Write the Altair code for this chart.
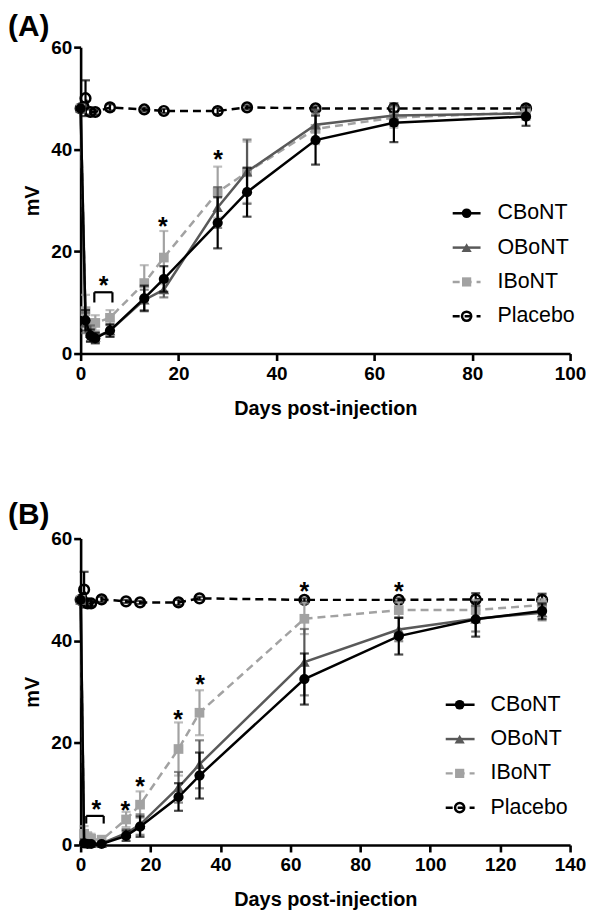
import altair as alt
import pandas as pd

FONT = "Liberation Sans"

SERIES_ORDER = ["Placebo", "IBoNT", "OBoNT", "CBoNT"]   # drawing order (last on top)
LEGEND_ORDER = ["CBoNT", "OBoNT", "IBoNT", "Placebo"]
COLORS = {"CBoNT": "#000000", "OBoNT": "#595959", "IBoNT": "#a2a2a2", "Placebo": "#000000"}
SHAPES = {"CBoNT": "circle", "OBoNT": "triangle-up", "IBoNT": "square", "Placebo": "circle"}
FILLED = {"CBoNT": True, "OBoNT": True, "IBoNT": True, "Placebo": False}
SIZES = {"CBoNT": 105, "OBoNT": 115, "IBoNT": 95, "Placebo": 95}
DASH = {"CBoNT": None, "OBoNT": None, "IBoNT": [8, 5], "Placebo": [8, 5]}

# ---------------- Panel A ----------------
days_a = [0, 1, 2, 3, 6, 13, 17, 28, 34, 48, 64, 91]
cbont_a = [48, 6.5, 3.5, 3.0, 4.5, 10.8, 14.6, 25.6, 31.6, 41.8, 45.2, 46.4]
cbont_a_sd = [0, 2.0, 1.2, 1.0, 1.2, 2.5, 2.5, 5.0, 4.8, 4.8, 3.8, 1.8]
obont_a = [48, 6.0, 4.0, 3.2, 4.5, 10.5, 12.5, 28.6, 35.6, 44.8, 46.6, 47.0]
obont_a_sd = [0, 2.0, 1.5, 1.0, 1.2, 2.0, 1.5, 4.0, 6.3, 3.0, 2.0, 1.2]
ibont_a = [48, 8.3, 5.2, 6.0, 7.0, 13.8, 18.8, 31.6, 35.5, 44.0, 46.2, 47.2]
ibont_a_sd = [0, 3.2, 1.5, 1.5, 1.5, 3.5, 5.2, 5.0, 6.0, 3.0, 2.0, 1.0]
placebo_a = [48, 50.0, 47.3, 47.3, 48.2, 47.8, 47.5, 47.5, 48.2, 48.0, 48.0, 48.0]
placebo_a_sd = [0, 3.5, 0.5, 0.5, 0.6, 0.4, 0.4, 0.6, 0.4, 0.4, 0.6, 0.6]
star_a_x = [4.7, 16.8, 28.1]
star_a_y = [14.3, 25.9, 39.0]
bracket_a = [2.8, 6.5, 12.0, 10.0]   # x1, x2, y top, y legs

# ---------------- Panel B ----------------
days_b = [0, 1, 2, 3, 6, 13, 17, 28, 34, 64, 91, 113, 132]
cbont_b = [48, 0.3, 0.2, 0.2, 0.2, 1.8, 3.6, 9.4, 13.6, 32.5, 40.9, 44.2, 45.8]
cbont_b_sd = [0, 0.3, 0.2, 0.2, 0.2, 1.0, 2.0, 2.7, 4.5, 5.0, 3.6, 3.4, 1.5]
obont_b = [48, 0.5, 0.3, 0.3, 0.3, 2.3, 4.0, 11.3, 15.8, 35.8, 42.2, 44.3, 45.5]
obont_b_sd = [0, 0.5, 0.3, 0.3, 0.3, 0.8, 2.0, 3.0, 4.7, 6.5, 2.3, 2.5, 1.5]
ibont_b = [48, 2.2, 1.5, 1.2, 1.0, 5.0, 7.9, 18.8, 25.9, 44.3, 46.0, 46.0, 47.0]
ibont_b_sd = [0, 1.5, 1.0, 1.0, 0.8, 1.5, 2.6, 5.2, 4.4, 3.0, 1.5, 2.0, 1.2]
placebo_b = [48, 50.0, 47.3, 47.3, 48.1, 47.7, 47.5, 47.5, 48.3, 48.0, 48.0, 48.1, 48.0]
placebo_b_sd = [0, 3.5, 0.5, 0.5, 0.5, 0.3, 0.3, 0.5, 0.3, 0.3, 0.3, 1.2, 1.2]
star_b_x = [4.5, 12.8, 17.0, 27.9, 34.2, 64, 91]
star_b_y = [8.1, 7.8, 12.6, 25.6, 32.4, 50.7, 50.7]
bracket_b = [1.6, 6.6, 5.7, 4.2]

W, H = 492, 308
X_TICKS_A = [0, 20, 40, 60, 80, 100]
X_TICKS_B = [0, 20, 40, 60, 80, 100, 120, 140]
Y_TICKS = [0, 20, 40, 60]


def panel(label, label_y, days, series, stars_x, stars_y, bracket, xticks, leg):
    xmax = xticks[-1]
    xs = alt.Scale(domain=[0, xmax], nice=False)
    ys = alt.Scale(domain=[0, 60], nice=False)
    xaxis = alt.Axis(values=xticks, title="Days post-injection", labelFlush=False,
                     titlePadding=15, labelPadding=4)
    yaxis = alt.Axis(values=Y_TICKS, title="mV", titlePadding=8, labelPadding=2)

    def X(f):
        return alt.X(f, type="quantitative", scale=xs, axis=xaxis)

    def Y(f):
        return alt.Y(f, type="quantitative", scale=ys, axis=yaxis)

    layers = []
    for name in SERIES_ORDER:
        mean, sd = series[name]
        df = pd.DataFrame({"day": days, "mean": mean, "sd": sd})
        df["lo"] = df["mean"] - df["sd"]
        df["hi"] = df["mean"] + df["sd"]
        c = COLORS[name]
        base = alt.Chart(df)
        err = df[df["sd"] > 0]
        eb = alt.Chart(err)
        layers.append(eb.mark_rule(color=c, strokeWidth=2.2).encode(x=X("day"), y=Y("lo"), y2="hi"))
        for f in ["lo", "hi"]:
            layers.append(eb.mark_tick(color=c, orient="horizontal", size=9, thickness=2.2)
                          .encode(x=X("day"), y=Y(f)))
        lkw = dict(color=c, strokeWidth=2.5)
        if DASH[name]:
            lkw["strokeDash"] = DASH[name]
        layers.append(base.mark_line(**lkw).encode(x=X("day"), y=Y("mean")))
        pkw = dict(shape=SHAPES[name], size=SIZES[name], opacity=1)
        if FILLED[name]:
            pkw.update(filled=True, color=c)
        else:
            pkw.update(filled=False, color=c, strokeWidth=2.5)
        layers.append(base.mark_point(**pkw).encode(x=X("day"), y=Y("mean")))

    # significance stars
    sdf = pd.DataFrame({"day": stars_x, "y": stars_y, "t": ["*"] * len(stars_x)})
    layers.append(alt.Chart(sdf).mark_text(font=FONT, fontSize=25, fontWeight="bold", color="black",
                                           baseline="alphabetic", dy=14)
                  .encode(x=X("day"), y=Y("y"), text="t:N"))
    # bracket
    x1, x2, yt, yl = bracket
    bdf = pd.DataFrame({"day": [x1, x1, x2], "d2": [x2, x1, x2], "y": [yt, yt, yt], "y2": [yt, yl, yl]})
    layers.append(alt.Chart(bdf).mark_rule(color="black", strokeWidth=2.2)
                  .encode(x=X("day"), x2="d2", y=Y("y"), y2="y2"))

    # legend (drawn manually to show line + marker)
    lx1, lx2, lm, lt, ly0, lstep = leg
    for i, name in enumerate(LEGEND_ORDER):
        yy = ly0 + i * lstep
        one = alt.Chart(pd.DataFrame({"t": [name]}))
        rkw = dict(color=COLORS[name], strokeWidth=2.5)
        if DASH[name]:
            rkw["strokeDash"] = [7, 5]
        layers.append(one.mark_rule(**rkw).encode(x=alt.value(lx1), x2=alt.value(lx2), y=alt.value(yy)))
        pkw = dict(shape=SHAPES[name], size=SIZES[name] * 0.9, opacity=1)
        if FILLED[name]:
            pkw.update(filled=True, color=COLORS[name])
        else:
            pkw.update(filled=False, color=COLORS[name], strokeWidth=2.5)
        layers.append(one.mark_point(**pkw).encode(x=alt.value(lm), y=alt.value(yy)))
        layers.append(one.mark_text(font=FONT, fontSize=21.5, color="black", align="left",
                                    baseline="middle")
                      .encode(x=alt.value(lt), y=alt.value(yy), text="t:N"))

    # panel label
    lab = alt.Chart(pd.DataFrame({"t": [label]})).mark_text(
        font=FONT, fontSize=30, fontWeight="bold", color="black", align="left", baseline="alphabetic"
    ).encode(x=alt.value(-73), y=alt.value(label_y), text="t:N")
    layers.append(lab)

    return alt.layer(*layers).properties(width=W, height=H)


series_a = {"CBoNT": (cbont_a, cbont_a_sd), "OBoNT": (obont_a, obont_a_sd),
            "IBoNT": (ibont_a, ibont_a_sd), "Placebo": (placebo_a, placebo_a_sd)}
series_b = {"CBoNT": (cbont_b, cbont_b_sd), "OBoNT": (obont_b, obont_b_sd),
            "IBoNT": (ibont_b, ibont_b_sd), "Placebo": (placebo_b, placebo_b_sd)}

pa = panel("(A)", -11, days_a, series_a, star_a_x, star_a_y, bracket_a, X_TICKS_A,
           (374, 402, 388, 419, 167, 34.5))
pb = panel("(B)", -15, days_b, series_b, star_b_x, star_b_y, bracket_b, X_TICKS_B,
           (367, 396, 381, 412, 167, 34.5))

chart = alt.vconcat(pa, pb, spacing=82).properties(
    padding={"left": 0, "top": 2, "right": 0, "bottom": 0}
).configure_view(stroke=None).configure_axis(
    domainColor="black", domainWidth=2.6, tickColor="black", tickWidth=2.6, tickSize=7,
    labelFont=FONT, labelFontSize=19, labelFontWeight="bold", labelColor="black",
    titleFont=FONT, titleFontSize=20, titleFontWeight="bold", titleColor="black",
    grid=False, labelOverlap=False
)

chart.save("out.html", embed_options={"renderer": "svg", "actions": False})
